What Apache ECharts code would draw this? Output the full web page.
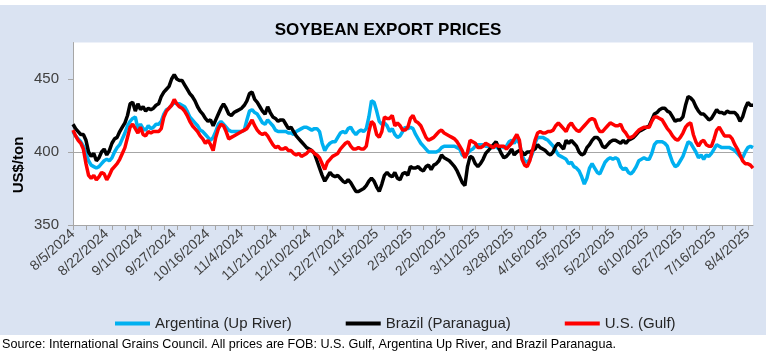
<!DOCTYPE html>
<html>
<head>
<meta charset="utf-8">
<title>Soybean export prices</title>
<script src="https://cdn.jsdelivr.net/npm/echarts@6.0.0/dist/echarts.min.js"></script>
<style>
  html, body { margin: 0; padding: 0; background: #fff; }
  #panel { position: absolute; left: 0; top: 5px; width: 766px; height: 330px; background: #dae3f2; }
  #chart { position: absolute; left: 0; top: 0; width: 776px; height: 354px; }
</style>
</head>
<body>
<div id="panel"></div>
<div id="chart"></div>
<script>
  // daily FOB quotes, US$/ton, one value per weekday from 8/5/2024
  const argentina = [
    414, 411, 409, 407, 404, 399, 394, 391, 390, 389,
    390, 392, 394, 395, 394, 396, 400, 403, 405, 409,
    413, 418, 421, 423, 424, 416, 419, 416, 415, 418,
    416, 417, 419, 419, 421, 426, 429, 430, 432, 434,
    433, 433, 432, 431, 428, 424, 422, 420, 418, 415,
    414, 412, 410, 408, 410, 414, 419, 421, 419, 417,
    415, 414, 414, 414, 414, 414, 415, 422, 428, 429,
    427, 426, 423, 420, 419, 422, 420, 418, 415, 414,
    414, 414, 414, 413, 413, 412, 414, 415, 416, 417,
    417, 416, 415, 416, 416, 414, 406, 401, 404, 406,
    407, 407, 410, 413, 414, 413, 416, 417, 414, 412,
    414, 415, 414, 416, 424, 435, 434, 428, 421, 419,
    420, 418, 414, 416, 412, 410, 411, 414, 417, 416,
    417, 416, 412, 409, 406, 404, 402, 400, 400, 400,
    400, 401, 403, 404, 404, 404, 404, 404, 403, 402,
    398, 397, 399, 401, 402, 404, 405, 405, 405, 404,
    404, 403, 403, 404, 402, 404, 403, 404, 407, 408,
    406, 409, 406, 398, 394, 393, 395, 399, 406, 410,
    410, 410, 409, 408, 406, 404, 401, 398, 397, 396,
    395, 392, 393, 390, 389, 387, 383, 378, 382, 389,
    392, 389, 386, 385, 389, 393, 395, 396, 395, 396,
    395, 390, 388, 389, 386, 385, 387, 390, 394, 395,
    396, 395, 395, 399, 405, 407, 407, 407, 406, 404,
    398, 393, 390, 391, 394, 397, 402, 407, 406, 403,
    400, 396, 398, 395, 398, 397, 399, 402, 405, 404,
    403, 403, 403, 403, 402, 401, 399, 397, 396, 400,
    403, 404, 403
  ];
  const brazil = [
    419, 416, 414, 412, 412, 408, 400, 397, 399, 394,
    396, 400, 402, 398, 401, 406, 409, 410, 414, 417,
    420, 425, 433, 434, 428, 433, 429, 431, 428, 430,
    429, 430, 432, 433, 438, 441, 443, 445, 450, 453,
    450, 449, 449, 446, 443, 440, 438, 435, 431, 428,
    426, 423, 421, 422, 418, 422, 426, 430, 433, 430,
    426, 425, 427, 428, 429, 430, 432, 435, 440, 441,
    436, 434, 431, 428, 426, 431, 427, 424, 423, 421,
    422, 422, 419, 416, 417, 414, 411, 409, 407, 405,
    403, 402, 401, 399, 394, 389, 384, 380, 383, 386,
    384, 383, 384, 382, 380, 379, 381, 379, 376, 373,
    373, 374, 375, 377, 380, 382, 380, 376, 373, 378,
    384, 386, 384, 383, 386, 382, 381, 385, 386, 384,
    390, 389, 389, 390, 388, 387, 390, 391, 388, 391,
    392, 394, 398, 396, 395, 394, 392, 390, 387, 383,
    379, 377, 390, 397, 396, 392, 390, 392, 395, 399,
    401, 403, 405, 407, 403, 399, 396, 397, 399, 402,
    398, 400, 401, 400, 398, 400, 400, 401, 402, 405,
    403, 402, 401, 399, 398, 400, 404, 406, 404, 402,
    408, 406, 408, 406, 404, 400, 398, 399, 403, 405,
    408, 410, 410, 408, 404, 403, 405, 407, 408, 408,
    407, 406, 408, 406, 408, 409, 410, 412, 414, 415,
    416, 417, 418, 422, 426, 427, 429, 430, 430, 428,
    427, 424, 421, 422, 422, 424, 432, 438, 437, 435,
    431, 428, 426, 426, 424, 422, 423, 426, 429, 427,
    427, 426, 428, 427, 427, 427, 425, 421, 424, 430,
    434, 432, 432
  ];
  const usGulf = [
    415, 411, 408, 406, 402, 392, 384, 382, 384, 381,
    383, 386, 385, 381, 384, 388, 390, 392, 395, 399,
    403, 410, 417, 419, 416, 413, 417, 412, 411, 414,
    413, 414, 414, 414, 416, 424, 428, 430, 432, 436,
    433, 431, 430, 428, 425, 421, 418, 416, 414, 411,
    409, 406, 408, 405, 401, 410, 416, 419, 418, 414,
    409, 410, 411, 412, 413, 414, 415, 416, 419, 422,
    418, 415, 413, 412, 413, 411, 408, 405, 403, 404,
    402, 402, 403, 401, 401, 399, 398, 399, 397, 398,
    399, 401, 401, 399, 398, 396, 392, 388, 393, 395,
    397, 398, 399, 402, 404, 406, 407, 404, 402, 402,
    403, 402, 402, 404, 414, 421, 419, 412, 410, 414,
    424, 423, 423, 425, 418, 420, 418, 415, 415, 417,
    423, 425, 421, 420, 418, 414, 410, 408, 409, 410,
    412, 414, 415, 413, 412, 411, 410, 409, 407, 404,
    401, 396, 400, 408, 407, 406, 403, 403, 404, 406,
    405, 404, 403, 405, 404, 404, 404, 402, 404, 406,
    409, 412, 408, 395, 391, 390, 394, 401, 408, 413,
    414, 413, 413, 414, 414, 415, 418, 420, 418, 416,
    414, 418, 420, 417, 415, 414, 416, 418, 420, 422,
    423, 422, 417, 414, 414, 416, 418, 420, 419, 418,
    418, 419, 415, 413, 410, 410, 411, 413, 415, 416,
    417, 417, 417, 421, 424, 424, 423, 422, 419, 416,
    414, 411, 409, 408, 410, 413, 417, 419, 420, 412,
    407, 404, 407, 408, 405, 404, 404, 409, 415, 417,
    414, 411, 411, 411, 409, 405, 402, 398, 394, 392,
    392, 391, 389
  ];
  const seriesNames = ['Argentina (Up River)', 'Brazil (Paranagua)', 'U.S. (Gulf)'];
  const yTicks = [350, 400, 450];

  // weekday dates starting 8/5/2024, one per quote
  const dates = [];
  for (let d = new Date(2024, 7, 5); dates.length < argentina.length; d.setDate(d.getDate() + 1)) {
    const wd = d.getDay();
    if (wd !== 0 && wd !== 6) {
      dates.push((d.getMonth() + 1) + '/' + d.getDate() + '/' + d.getFullYear());
    }
  }

  const font = 'Liberation Sans';
  const axisGrey = '#a6a6a6';
  const chart = echarts.init(document.getElementById('chart'), null, { renderer: 'canvas' });

  function line(name, data, color) {
    return {
      name: name,
      type: 'line',
      data: data,
      symbol: 'none',
      smooth: false,
      animation: false,
      lineStyle: { color: color, width: 3.5 },
      itemStyle: { color: color }
    };
  }

  chart.setOption({
    textStyle: { fontFamily: font },
    title: {
      text: 'SOYBEAN EXPORT PRICES',
      left: 'center',
      top: 17,
      textStyle: { fontFamily: font, fontSize: 17, fontWeight: 'bold', color: '#000' }
    },
    legend: {
      data: seriesNames,
      left: 110,
      top: 311,
      itemGap: 54,
      itemWidth: 35,
      itemHeight: 4,
      icon: 'rect',
      textStyle: { fontFamily: font, fontSize: 15, color: '#262626' }
    },
    grid: {
      left: 73,
      right: 23,
      top: 42.5,
      bottom: 129,
      show: true,
      backgroundColor: '#ffffff',
      borderWidth: 0
    },
    xAxis: {
      type: 'category',
      data: dates,
      boundaryGap: false,
      axisLine: { show: true, lineStyle: { color: axisGrey, width: 1 } },
      axisTick: { show: true, interval: 4, length: 5, lineStyle: { color: axisGrey } },
      axisLabel: {
        interval: 12,
        rotate: 42,
        margin: 7,
        fontSize: 14,
        color: '#404040'
      },
      splitLine: { show: false }
    },
    yAxis: {
      type: 'value',
      min: 350,
      max: 475,
      interval: 50,
      axisLine: { show: true, lineStyle: { color: axisGrey, width: 1 } },
      axisTick: { show: true, length: 5, customValues: yTicks, lineStyle: { color: axisGrey } },
      axisLabel: { margin: 14, fontSize: 15, color: '#404040', customValues: yTicks },
      splitLine: {
        show: true,
        showMinLine: false,
        showMaxLine: false,
        lineStyle: { color: axisGrey, width: 1 }
      }
    },
    graphic: [
      {
        type: 'text',
        x: 19,
        y: 165,
        rotation: Math.PI / 2,
        style: {
          text: 'US$/ton',
          fontFamily: font,
          fontSize: 15,
          fontWeight: 'bold',
          fill: '#000',
          align: 'center',
          verticalAlign: 'middle'
        }
      },
      {
        type: 'text',
        left: 2,
        top: 338,
        style: {
          text: 'Source: International Grains Council. All prices are FOB: U.S. Gulf, Argentina Up River, and Brazil Paranagua.',
          fontFamily: font,
          fontSize: 12.6,
          fill: '#000'
        }
      }
    ],
    series: [
      line(seriesNames[0], argentina, '#00b0f0'),
      line(seriesNames[1], brazil, '#000000'),
      line(seriesNames[2], usGulf, '#ff0000')
    ]
  });
</script>
</body>
</html>
